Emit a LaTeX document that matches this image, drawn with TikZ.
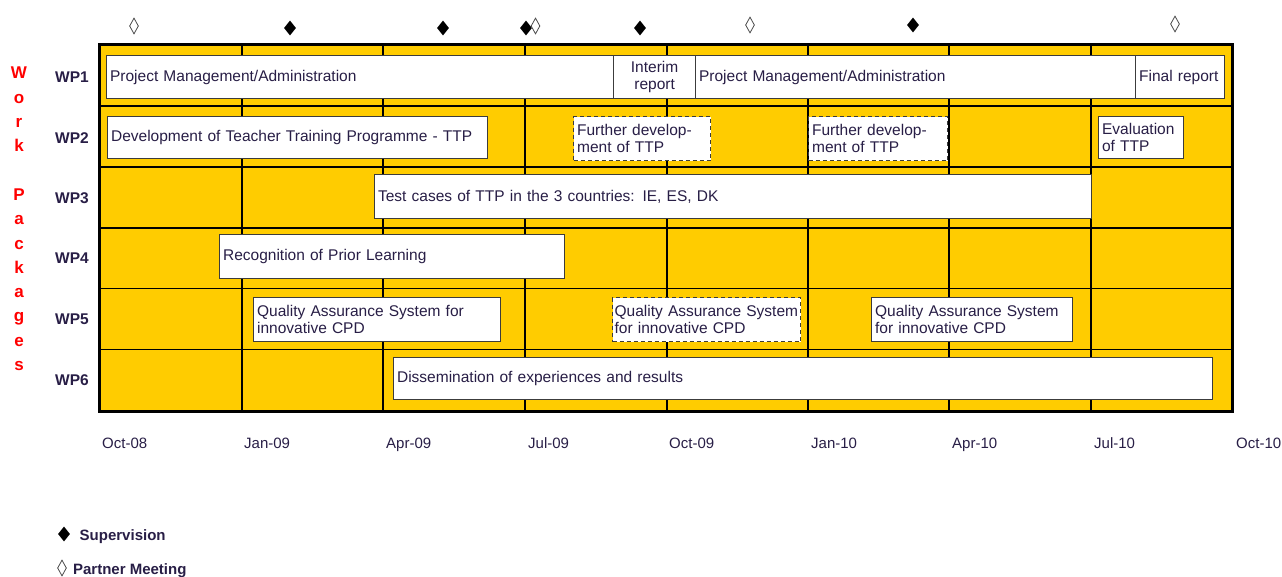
\documentclass[tikz,border=0pt]{standalone}
\usepackage{fontspec}
\setmainfont{Liberation Sans}
\usetikzlibrary{positioning}
\usetikzlibrary{shapes.geometric}
\definecolor{chartYellow}{RGB}{255,204,0}
\definecolor{labelColor}{RGB}{40,30,70}
\definecolor{boxLine}{RGB}{60,60,60}
\definecolor{titleRed}{RGB}{255,0,0}
\hyphenpenalty=10000

\begin{document}
\begin{tikzpicture}[x=1pt,y=-1pt]

            \tikzstyle{taskBox} = [draw=boxLine, line width=1.2pt, fill=white, anchor=north west, inner xsep=3.5pt, inner ysep=0pt, align=left, text=labelColor, font=\fontsize{15.5}{17.5}\selectfont];
            \tikzstyle{openBox} = [taskBox, dash pattern=on 4pt off 3pt];
            \tikzstyle{gridLine} = [line width=1.1pt, black];
            \tikzstyle{wpLabel} = [text=labelColor, font=\bfseries\fontsize{15.5}{17.5}\selectfont];
            \tikzstyle{axisLabel} = [anchor=base west, inner sep=0pt, text=labelColor, font=\fontsize{15}{17}\selectfont];
            \tikzstyle{supMark} = [shape=diamond, fill=black, inner sep=0pt, minimum width=12pt, minimum height=15pt];
            \tikzstyle{meetMark} = [shape=diamond, draw=black!70, fill=white, line width=0.8pt, inner sep=0pt, minimum width=9pt, minimum height=16pt];
            \tikzstyle{legendText} = [text=labelColor, yshift=-2.5pt, font=\bfseries\fontsize{15}{17}\selectfont];

            \useasboundingbox (0,0) rectangle (1282,577);

            \fill[chartYellow] (99,45) rectangle (1232,411);

            \draw[gridLine] (242,45) -- (242,411);
            \draw[gridLine] (383,45) -- (383,411);
            \draw[gridLine] (525,45) -- (525,411);
            \draw[gridLine] (667,45) -- (667,411);
            \draw[gridLine] (808,45) -- (808,411);
            \draw[gridLine] (949,45) -- (949,411);
            \draw[gridLine] (1091,45) -- (1091,411);

            \draw[gridLine] (99,106) -- (1232,106);
            \draw[gridLine] (99,167) -- (1232,167);
            \draw[gridLine] (99,228) -- (1232,228);
            \draw[gridLine] (99,288.5) -- (1232,288.5);
            \draw[gridLine] (99,349.5) -- (1232,349.5);

            \node[taskBox, text width=500pt, minimum height=43pt] (pmA) at (106,55) {Project Management/Administration};
            \node[taskBox, text width=75pt, minimum height=43pt, align=center] (interim) at (613,55) {Interim\\report};
            \node[taskBox, text width=433pt, minimum height=43pt] (pmB) at (695,55) {Project Management/Administration};
            \node[taskBox, text width=82pt, minimum height=43pt] (final) at (1135,55) {Final report};

            \node[taskBox, text width=373pt, minimum height=42pt] (ttpDev) at (107,116) {Development of Teacher Training Programme - TTP};
            \node[openBox, text width=130pt, minimum height=44pt] (furtherA) at (573,116) {Further develop-\\ment of TTP};
            \node[openBox, text width=132pt, minimum height=44pt] (furtherB) at (808,116) {Further develop-\\ment of TTP};
            \node[taskBox, text width=78pt, minimum height=42pt] (evalTtp) at (1098,116) {Evaluation\\of TTP};

            \node[taskBox, text width=710pt, minimum height=44pt] (testCases) at (374,174) {Test cases of TTP in the 3 countries: IE, ES, DK};

            \node[taskBox, text width=338pt, minimum height=44pt] (rpl) at (219,234) {Recognition of Prior Learning};

            \node[taskBox, text width=240pt, minimum height=44pt] (qaA) at (253,297) {Quality Assurance System for\\innovative CPD};
            \node[openBox, inner xsep=2pt, text width=184pt, minimum height=44pt] (qaB) at (612,297) {Quality Assurance System\\for innovative CPD};
            \node[taskBox, text width=194pt, minimum height=44pt] (qaC) at (871,297) {Quality Assurance System\\for innovative CPD};

            \node[taskBox, text width=812pt, minimum height=42pt] (dissem) at (393,357) {Dissemination of experiences and results};

            \draw[line width=3pt, black] (99,45) rectangle (1232,411);

            \node[wpLabel] (wp1) at (72,77) {WP1};
            \node[wpLabel] (wp2) at (72,138) {WP2};
            \node[wpLabel] (wp3) at (72,198) {WP3};
            \node[wpLabel] (wp4) at (72,258) {WP4};
            \node[wpLabel] (wp5) at (72,319) {WP5};
            \node[wpLabel] (wp6) at (72,380) {WP6};

            \node[align=center, text=titleRed, font=\bfseries\fontsize{17}{24.3}\selectfont] (title) at (19,219) {W\\o\\r\\k\\[24.3pt]P\\a\\c\\k\\a\\g\\e\\s};

            \node[axisLabel] (oct08) at (102,448.5) {Oct-08};
            \node[axisLabel] (jan09) at (244,448.5) {Jan-09};
            \node[axisLabel] (apr09) at (386,448.5) {Apr-09};
            \node[axisLabel] (jul09) at (528,448.5) {Jul-09};
            \node[axisLabel] (oct09) at (669,448.5) {Oct-09};
            \node[axisLabel] (jan10) at (811,448.5) {Jan-10};
            \node[axisLabel] (apr10) at (952,448.5) {Apr-10};
            \node[axisLabel] (jul10) at (1094,448.5) {Jul-10};
            \node[axisLabel] (oct10) at (1236,448.5) {Oct-10};

            \node[meetMark] (meet1) at (134,26) {};
            \node[supMark] (sup1) at (290,28) {};
            \node[supMark] (sup2) at (443,28) {};
            \node[supMark] (sup3) at (526,28) {};
            \node[meetMark] (meet2) at (535.5,26) {};
            \node[supMark] (sup4) at (640,28) {};
            \node[meetMark] (meet3) at (750,25) {};
            \node[supMark] (sup5) at (913,25) {};
            \node[meetMark] (meet4) at (1175,24) {};

            \node[supMark] (supLegend) at (64,534) {};
            \node[legendText, right=6pt of supLegend] (supText) {Supervision};
            \node[meetMark] (meetLegend) at (62,568) {};
            \node[legendText, right=2.7pt of meetLegend] (meetText) {Partner Meeting};
          \end{tikzpicture}
\end{document}
